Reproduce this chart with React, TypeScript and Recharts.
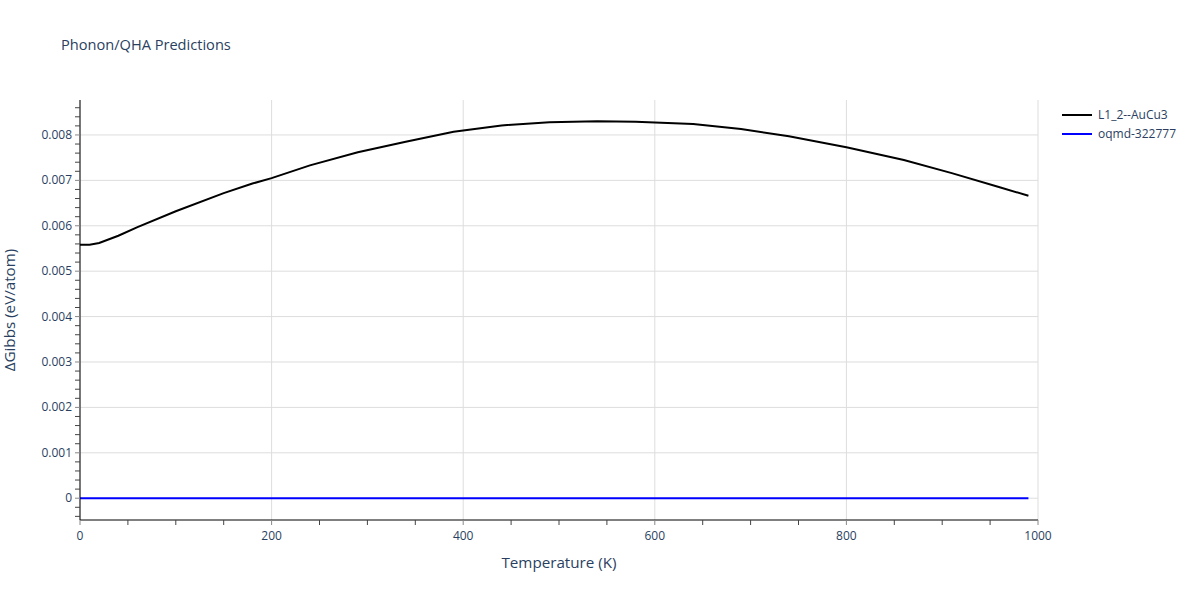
import React from "react";
import { LineChart, Line, XAxis, YAxis, CartesianGrid, Customized } from "recharts";

const temperatures = [0, 10, 20, 40, 60, 100, 150, 180, 200, 240, 290, 340, 390, 440, 490, 540, 580, 640, 690, 740, 800, 860, 910, 960, 990];
const auCu3 = [0.00558, 0.00558, 0.00562, 0.00578, 0.00597, 0.00632, 0.00672, 0.00693, 0.00705, 0.00733, 0.00762, 0.00785, 0.00807, 0.00821, 0.00828, 0.0083, 0.00829, 0.00824, 0.00813, 0.00797, 0.00773, 0.00745, 0.00716, 0.00685, 0.00666];
const oqmd = temperatures.map(() => 0);

const xMajorTicks = [0, 200, 400, 600, 800, 1000];
const xAllTicks = [0, 50, 100, 150, 200, 250, 300, 350, 400, 450, 500, 550, 600, 650, 700, 750, 800, 850, 900, 950, 1000];
const yMajorTicks = [0, 0.001, 0.002, 0.003, 0.004, 0.005, 0.006, 0.007, 0.008];
const yAllTicks = [-0.0004, -0.0002, 0, 0.0002, 0.0004, 0.0006, 0.0008, 0.001, 0.0012, 0.0014, 0.0016, 0.0018, 0.002, 0.0022, 0.0024, 0.0026, 0.0028, 0.003, 0.0032, 0.0034, 0.0036, 0.0038, 0.004, 0.0042, 0.0044, 0.0046, 0.0048, 0.005, 0.0052, 0.0054, 0.0056, 0.0058, 0.006, 0.0062, 0.0064, 0.0066, 0.0068, 0.007, 0.0072, 0.0074, 0.0076, 0.0078, 0.008, 0.0082, 0.0084, 0.0086];

const seriesNames = ["L1_2--AuCu3", "oqmd-322777"];
const seriesColors = ["#000000", "#0000ff"];

const data = temperatures.map((t, i) => ({ t, a: auCu3[i], b: oqmd[i] }));

const FONT = '"Open Sans", "Noto Sans", sans-serif';
const TXT = "#2a3f5f";

const isMajorY = (v: number) => Math.abs(Math.round(v * 1000) - v * 1000) < 1e-6;
const fmtY = (v: number) => (Math.abs(v) < 1e-12 ? "0" : v.toFixed(3));

const XTick = (props: any) => {
  const { x, y, payload } = props;
  const v = payload.value;
  const major = v % 200 === 0;
  return (
    <g>
      <line x1={x} x2={x} y1={y - 8} y2={y - 3} stroke={major ? "#888" : "#444"} strokeWidth={1} />
      {major && (
        <text x={x} y={y + 12} textAnchor="middle" fill={TXT} fontSize={12} fontFamily={FONT}>
          {v}
        </text>
      )}
    </g>
  );
};

const YTick = (props: any) => {
  const { x, y, payload } = props;
  const v = payload.value;
  const major = isMajorY(v);
  return (
    <g>
      <line x1={x + 3} x2={x + 8} y1={y} y2={y} stroke={major ? "#888" : "#444"} strokeWidth={1} />
      {major && (
        <text x={x} y={y + 4} textAnchor="end" fill={TXT} fontSize={12} fontFamily={FONT}>
          {fmtY(v)}
        </text>
      )}
    </g>
  );
};

const Titles = () => (
  <g fontFamily={FONT}>
    <text x={61} y={50} fill={TXT} fontSize={14.6}>Phonon/QHA Predictions</text>
    <text x={559} y={568} fill={TXT} fontSize={15.2} textAnchor="middle">Temperature (K)</text>
    <text x={0} y={0} fill={TXT} fontSize={15.2} textAnchor="middle" transform="translate(15,310) rotate(-90)">ΔGibbs (eV/atom)</text>
    {seriesNames.map((n, i) => (
      <g key={n}>
        <line x1={1062} x2={1092} y1={115 + i * 19} y2={115 + i * 19} stroke={seriesColors[i]} strokeWidth={2} />
        <text x={1098} y={119 + i * 19} fill={TXT} fontSize={12}>{n}</text>
      </g>
    ))}
  </g>
);

export default function App() {
  return (
    <div style={{ position: "absolute", left: 0, top: 0, width: 1200, height: 600, background: "#fff" }}>
      <LineChart width={1200} height={600} data={data} margin={{ top: 100, right: 162, bottom: 0, left: 0 }}>
        <CartesianGrid
          stroke="#dddddd"
          horizontalValues={yMajorTicks}
          verticalValues={xMajorTicks}
        />
        <XAxis
          dataKey="t"
          type="number"
          domain={[0, 1000]}
          ticks={xAllTicks}
          interval={0}
          height={80}
          axisLine={{ stroke: "#000", strokeWidth: 1 }}
          tickLine={false}
          tick={<XTick />}
        />
        <YAxis
          type="number"
          domain={[-0.00048, 0.00877]}
          ticks={yAllTicks}
          interval={0}
          width={80}
          allowDataOverflow
          axisLine={{ stroke: "#000", strokeWidth: 1 }}
          tickLine={false}
          tick={<YTick />}
        />
        <Line dataKey="b" name={seriesNames[1]} stroke={seriesColors[1]} strokeWidth={2} dot={false} type="linear" isAnimationActive={false} />
        <Line dataKey="a" name={seriesNames[0]} stroke={seriesColors[0]} strokeWidth={2} dot={false} type="linear" isAnimationActive={false} />
        <Customized component={<Titles />} />
      </LineChart>
    </div>
  );
}
